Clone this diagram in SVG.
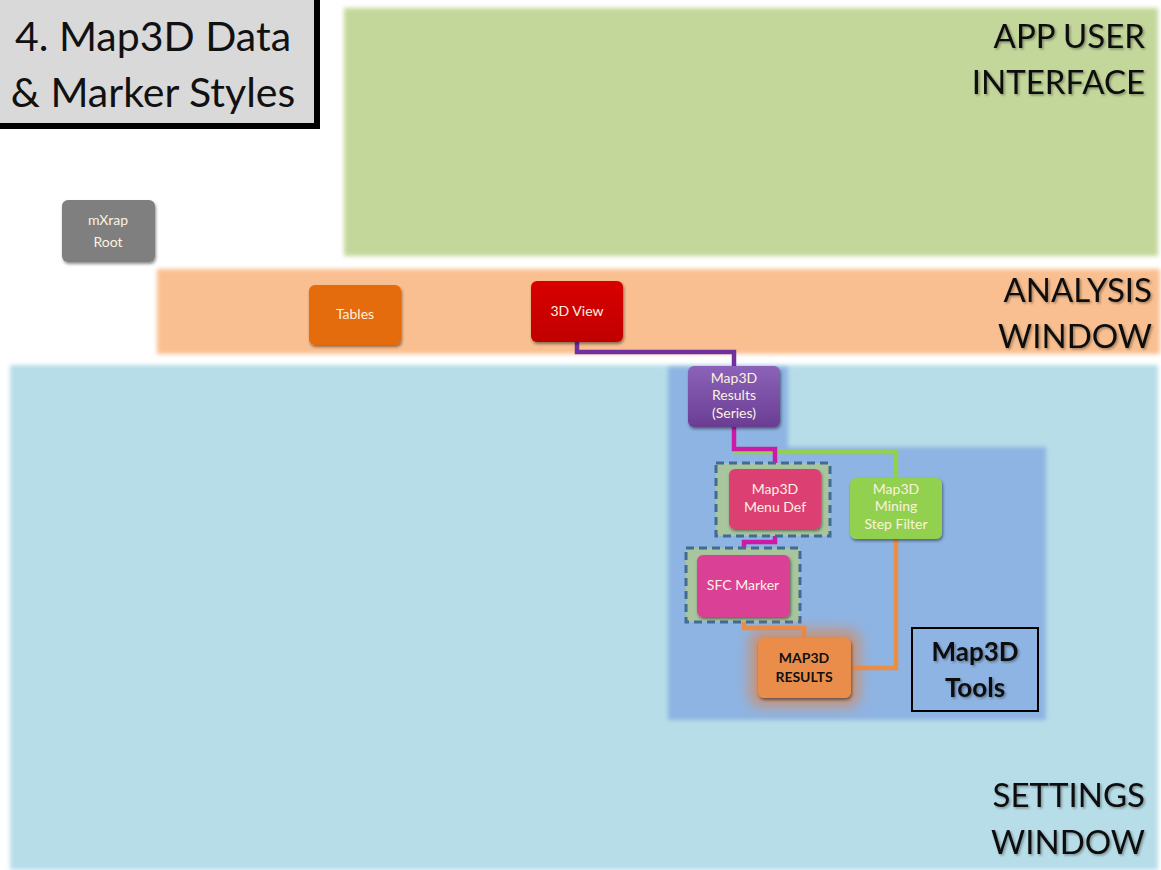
<svg xmlns="http://www.w3.org/2000/svg" width="1161" height="870" viewBox="0 0 1161 870">
<defs>
<filter id="sh" x="-20%" y="-20%" width="150%" height="150%"><feDropShadow dx="1" dy="2" stdDeviation="1.5" flood-color="#000" flood-opacity="0.45"/></filter>
<filter id="soft" x="-5%" y="-5%" width="110%" height="110%"><feGaussianBlur stdDeviation="2"/></filter>
<filter id="glow2" x="-40%" y="-40%" width="180%" height="180%"><feGaussianBlur stdDeviation="7"/></filter>
<filter id="tsh" x="-10%" y="-10%" width="120%" height="130%"><feDropShadow dx="1.5" dy="1.5" stdDeviation="1" flood-color="#000" flood-opacity="0.35"/></filter>
<linearGradient id="gPurple" x1="0" y1="0" x2="0" y2="1"><stop offset="0" stop-color="#8b63b8"/><stop offset="1" stop-color="#6a3d93"/></linearGradient>
<linearGradient id="gRed" x1="0" y1="0" x2="0" y2="1"><stop offset="0" stop-color="#d80000"/><stop offset="1" stop-color="#c00000"/></linearGradient>
</defs>
<style>
.lbl{font-family:Lato,"Open Sans","Liberation Sans",sans-serif;}
.node{stroke:none;filter:url(#sh);}
.nt{font-family:Lato,"Open Sans","Liberation Sans",sans-serif;font-size:14px;text-anchor:middle;fill:#fdf2e0;}
.big{font-family:Lato,"Open Sans","Liberation Sans",sans-serif;font-size:33px;text-anchor:end;fill:#111;filter:url(#tsh);}
.conn{fill:none;stroke-width:4.5;stroke-linejoin:miter;}
.dash{fill:#a8c59d;stroke:#3f6b95;stroke-width:3;stroke-dasharray:8 5;}
</style>

<g id="panels">
<rect x="344" y="8" width="814" height="248" fill="#c4d79b" filter="url(#soft)"/>
<rect x="157" y="269" width="1003" height="85" fill="#f9bf90" filter="url(#soft)"/>
<rect x="10" y="365" width="1148" height="505" fill="#b7dde8" filter="url(#soft)"/>
<path d="M668 367 H788 V447 H1046 V720 H668 Z" fill="#8eb4e3" filter="url(#soft)"/>
<text class="big" x="1145" y="48">APP USER</text>
<text class="big" x="1145" y="94">INTERFACE</text>
<text class="big" x="1152" y="302">ANALYSIS</text>
<text class="big" x="1152" y="348">WINDOW</text>
<text class="big" x="1145" y="807">SETTINGS</text>
<text class="big" x="1145" y="854">WINDOW</text>
</g>

<g id="title">
<rect x="-5" y="-5" width="322" height="131" fill="#d9d9d9" stroke="#000" stroke-width="6"/>
<text class="lbl" x="153" y="51" font-size="41" text-anchor="middle" fill="#111">4. Map3D Data</text>
<text class="lbl" x="153" y="107" font-size="41" text-anchor="middle" fill="#111">&amp; Marker Styles</text>
</g>

<g id="connectors">
<path class="conn" stroke="#7030a0" d="M577 342 V352 H734 V366"/>
<path class="conn" stroke="#92d050" d="M734 452 H896 V478"/>
<path class="conn" stroke="#cc1aa6" d="M734 427 V449 H775 V469"/>
<path class="conn" stroke="#cc1aa6" d="M775 529 V542 H744 V555"/>
<path class="conn" stroke="#ec8d45" d="M744 617 V628 H804 V638"/>
<path class="conn" stroke="#ec8d45" d="M896 539 V668 H851"/>
</g>

<g id="mxrap-root">
<rect class="node" x="62" y="200" width="93" height="62" rx="6" fill="#7f7f7f"/>
<text class="nt" x="108" y="225" fill="#e8e8e8">mXrap</text>
<text class="nt" x="108" y="247" fill="#e8e8e8">Root</text>
</g>

<g id="tables">
<rect class="node" x="309" y="285" width="92" height="60" rx="6" fill="#e46c0a"/>
<text class="nt" x="355" y="319">Tables</text>
</g>

<g id="view3d">
<rect class="node" x="531" y="281" width="92" height="61" rx="6" fill="url(#gRed)"/>
<text class="nt" x="577" y="316">3D View</text>
</g>

<g id="map3d-results-series">
<rect class="node" x="688" y="366" width="92" height="61" rx="6" fill="url(#gPurple)"/>
<text class="nt" x="734" y="383">Map3D</text>
<text class="nt" x="734" y="400">Results</text>
<text class="nt" x="734" y="418">(Series)</text>
</g>

<g id="map3d-menu-def">
<rect class="dash" x="716" y="463" width="114" height="73"/>
<rect class="node" x="729" y="469" width="92" height="60" rx="6" fill="#dc4172"/>
<text class="nt" x="775" y="494">Map3D</text>
<text class="nt" x="775" y="512">Menu Def</text>
</g>

<g id="map3d-mining-step-filter">
<rect class="node" x="850" y="478" width="92" height="61" rx="6" fill="#92d050"/>
<text class="nt" x="896" y="494">Map3D</text>
<text class="nt" x="896" y="511">Mining</text>
<text class="nt" x="896" y="529">Step Filter</text>
</g>

<g id="sfc-marker">
<rect class="dash" x="686" y="548" width="114" height="74"/>
<rect class="node" x="697" y="555" width="93" height="62" rx="6" fill="#db3f97"/>
<text class="nt" x="743" y="590">SFC Marker</text>
</g>

<g id="map3d-results">
<rect x="750" y="630" width="109" height="76" rx="10" fill="#e0844a" opacity="0.75" filter="url(#glow2)"/>
<rect class="node" x="758" y="638" width="93" height="60" rx="6" fill="#ea8d4c"/>
<text class="lbl" x="804" y="663" font-size="14" font-weight="bold" text-anchor="middle" fill="#111">MAP3D</text>
<text class="lbl" x="804" y="682" font-size="14" font-weight="bold" text-anchor="middle" fill="#111">RESULTS</text>
</g>

<g id="map3d-tools">
<rect x="912" y="628" width="126" height="83" fill="none" stroke="#000" stroke-width="2"/>
<text class="lbl" x="975" y="661" font-size="26" font-weight="bold" text-anchor="middle" fill="#111" filter="url(#tsh)">Map3D</text>
<text class="lbl" x="975" y="697" font-size="26" font-weight="bold" text-anchor="middle" fill="#111" filter="url(#tsh)">Tools</text>
</g>
</svg>
